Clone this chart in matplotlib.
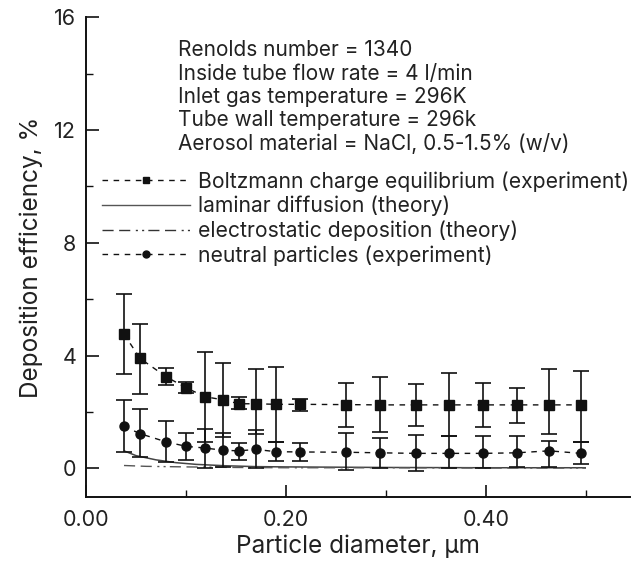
import matplotlib
matplotlib.use("Agg")
import matplotlib.pyplot as plt
from matplotlib.lines import Line2D
from matplotlib.ticker import MultipleLocator

plt.rcParams['font.family'] = ['Inter', 'DejaVu Sans']

# Boltzmann charge equilibrium (experiment)
bz_x = [0.038, 0.054, 0.080, 0.100, 0.119, 0.137, 0.153, 0.170, 0.190, 0.214,
        0.260, 0.294, 0.330, 0.363, 0.397, 0.431, 0.463, 0.495]
bz_y = [4.76, 3.90, 3.25, 2.86, 2.54, 2.43, 2.29, 2.29, 2.27, 2.27,
        2.26, 2.25, 2.25, 2.25, 2.25, 2.25, 2.25, 2.25]
bz_hi = [6.18, 5.12, 3.55, 3.07, 4.14, 3.75, 2.52, 3.52, 3.58, 2.46,
         3.04, 3.25, 2.99, 3.37, 3.01, 2.84, 3.52, 3.46]
bz_lo = [3.33, 2.62, 2.96, 2.66, 0.94, 1.11, 2.09, 1.21, 0.94, 2.05,
         1.47, 1.29, 1.51, 1.13, 1.46, 1.60, 1.22, 0.94]

# neutral particles (experiment)
np_x = bz_x
np_y = [1.49, 1.23, 0.94, 0.78, 0.72, 0.64, 0.62, 0.67, 0.59, 0.58,
        0.57, 0.55, 0.53, 0.53, 0.53, 0.55, 0.62, 0.53]
np_hi = [2.41, 2.09, 1.68, 1.27, 1.41, 1.26, 0.91, 1.35, 0.94, 0.90,
         1.26, 1.09, 1.17, 1.13, 1.13, 1.14, 0.96, 0.94]
np_lo = [0.59, 0.40, 0.23, 0.31, 0.02, 0.05, 0.31, 0.02, 0.26, 0.26,
         -0.07, 0.02, -0.10, 0.02, 0.01, 0.03, 0.03, 0.17]

# laminar diffusion (theory)
ld_x = [0.038, 0.050, 0.070, 0.090, 0.110, 0.140, 0.170, 0.200, 0.250, 0.300, 0.400, 0.500]
ld_y = [0.62, 0.45, 0.30, 0.20, 0.14, 0.09, 0.06, 0.05, 0.04, 0.03, 0.02, 0.02]

# electrostatic deposition (theory)
ed_x = [0.038, 0.060, 0.100, 0.150, 0.200, 0.300, 0.400, 0.500]
ed_y = [0.10, 0.07, 0.05, 0.03, 0.02, 0.02, 0.01, 0.01]

info_lines = ["Renolds number = 1340",
              "Inside tube flow rate = 4 l/min",
              "Inlet gas temperature = 296K",
              "Tube wall temperature = 296k",
              "Aerosol material = NaCl, 0.5-1.5% (w/v)"]

legend_labels = ["Boltzmann charge equilibrium (experiment)",
                 "laminar diffusion (theory)",
                 "electrostatic deposition (theory)",
                 "neutral particles (experiment)"]

x_ticks = [0.0, 0.2, 0.4]
x_ticklabels = ["0.00", "0.20", "0.40"]
y_ticks = [0, 4, 8, 12, 16]

txt = '#222222'
fig = plt.figure(figsize=(6.34, 5.61), dpi=100)
ax = fig.add_axes([86 / 634, 1 - 496.5 / 561, 544 / 634, 479.2 / 561])

ax.plot(ld_x, ld_y, color='#444444', lw=1.1, solid_capstyle='butt')
ax.plot(ed_x, ed_y, color='#555555', lw=1.0, dashes=(8, 4, 8, 4, 1.5, 3, 1.5, 3))

def errs(y, lo, hi):
    return [[a - b for a, b in zip(y, lo)], [b - a for a, b in zip(y, hi)]]

ax.errorbar(bz_x, bz_y, yerr=errs(bz_y, bz_lo, bz_hi), fmt='none', ecolor='#111111',
            elinewidth=1.2, capsize=6, capthick=1.2)
ax.errorbar(np_x, np_y, yerr=errs(np_y, np_lo, np_hi), fmt='none', ecolor='#111111',
            elinewidth=1.2, capsize=6, capthick=1.2)
ax.plot(bz_x, bz_y, color='#111111', lw=1.0, dashes=(4, 4), marker='s', ms=6.5)
ax.plot(np_x, np_y, color='#111111', lw=1.0, dashes=(4, 4), marker='o', ms=6.5)

ax.set_xlim(0, 0.544)
ax.set_ylim(-1.0, 16)
ax.spines['top'].set_visible(False)
ax.spines['right'].set_visible(False)
for s in ['left', 'bottom']:
    ax.spines[s].set_linewidth(1.4)
    ax.spines[s].set_color('#111111')

ax.set_xticks(x_ticks)
ax.set_xticklabels(x_ticklabels)
ax.set_yticks(y_ticks)
ax.xaxis.set_minor_locator(MultipleLocator(0.1))
ax.yaxis.set_minor_locator(MultipleLocator(2))
ax.tick_params(which='major', direction='in', length=9, width=1.2, labelsize=15.5,
               labelcolor=txt, colors='#111111')
ax.tick_params(which='minor', direction='in', length=5, width=1.0, colors='#111111')
ax.tick_params(axis='x', which='major', pad=10, labelcolor=txt)
ax.tick_params(axis='y', which='major', pad=7, labelcolor=txt)

ax.set_xlabel("Particle diameter, \u03bcm", fontsize=17.5, color=txt, labelpad=3)
ax.set_ylabel("Deposition efficiency, %", fontsize=17.5, color=txt, labelpad=8)

for i, line in enumerate(info_lines):
    ax.text(178 / 634, 1 - (50 + 23.5 * i) / 561, line, transform=fig.transFigure,
            fontsize=15, color=txt, va='center', ha='left')

handles = [
    Line2D([], [], color='#111111', lw=1.0, dashes=(4, 4), marker='s', ms=5),
    Line2D([], [], color='#555555', lw=1.0),
    Line2D([], [], color='#333333', lw=1.0, dashes=(8, 4, 8, 4, 1.5, 3, 1.5, 3)),
    Line2D([], [], color='#111111', lw=1.0, dashes=(4, 4), marker='o', ms=5),
]
leg = ax.legend(handles, legend_labels, loc='upper left',
                bbox_to_anchor=(102 / 634, 1 - 171 / 561), bbox_transform=fig.transFigure,
                frameon=False, fontsize=15.2, handlelength=4.15, handletextpad=0.38,
                labelspacing=0.2, borderpad=0, borderaxespad=0)
for t in leg.get_texts():
    t.set_color(txt)

fig.savefig("out.png", dpi=100)
